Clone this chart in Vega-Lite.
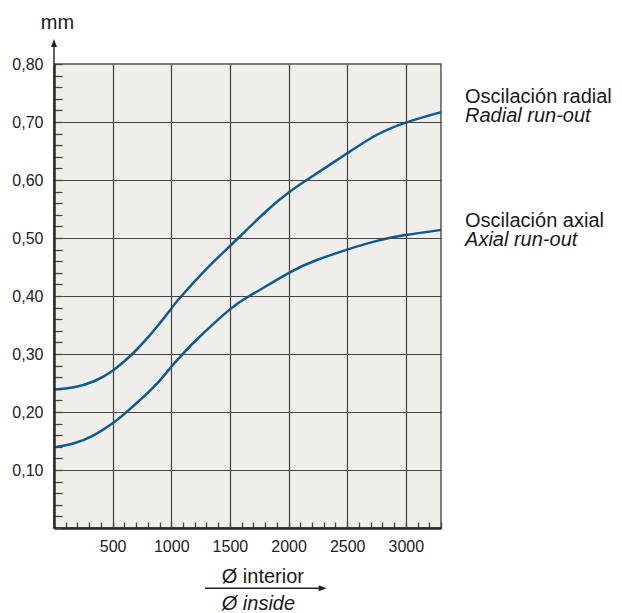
{
  "$schema": "https://vega.github.io/schema/vega-lite/v6.json",
  "width": 387,
  "height": 464,
  "autosize": {"type": "none"},
  "padding": {"left": 54, "top": 64, "right": 181, "bottom": 85},
  "background": "white",
  "config": {
    "view": {"fill": "#efeeea", "stroke": "#555555", "strokeWidth": 1.5},
    "font": "Liberation Sans"
  },
  "datasets": {
    "curves": [
      {"d": 0, "mm": 0.239, "serie": "radial"},
      {"d": 171, "mm": 0.2426, "serie": "radial"},
      {"d": 341, "mm": 0.253, "serie": "radial"},
      {"d": 500, "mm": 0.271, "serie": "radial"},
      {"d": 668, "mm": 0.300, "serie": "radial"},
      {"d": 776, "mm": 0.323, "serie": "radial"},
      {"d": 853, "mm": 0.341, "serie": "radial"},
      {"d": 1003, "mm": 0.379, "serie": "radial"},
      {"d": 1074, "mm": 0.397, "serie": "radial"},
      {"d": 1302, "mm": 0.447, "serie": "radial"},
      {"d": 1500, "mm": 0.486, "serie": "radial"},
      {"d": 1814, "mm": 0.547, "serie": "radial"},
      {"d": 2004, "mm": 0.579, "serie": "radial"},
      {"d": 2155, "mm": 0.600, "serie": "radial"},
      {"d": 2500, "mm": 0.646, "serie": "radial"},
      {"d": 2754, "mm": 0.678, "serie": "radial"},
      {"d": 3000, "mm": 0.699, "serie": "radial"},
      {"d": 3300, "mm": 0.717, "serie": "radial"},
      {"d": 0, "mm": 0.139, "serie": "axial"},
      {"d": 171, "mm": 0.146, "serie": "axial"},
      {"d": 341, "mm": 0.160, "serie": "axial"},
      {"d": 500, "mm": 0.1805, "serie": "axial"},
      {"d": 625, "mm": 0.201, "serie": "axial"},
      {"d": 853, "mm": 0.2436, "serie": "axial"},
      {"d": 1000, "mm": 0.278, "serie": "axial"},
      {"d": 1094, "mm": 0.299, "serie": "axial"},
      {"d": 1202, "mm": 0.322, "serie": "axial"},
      {"d": 1500, "mm": 0.377, "serie": "axial"},
      {"d": 1700, "mm": 0.404, "serie": "axial"},
      {"d": 2004, "mm": 0.440, "serie": "axial"},
      {"d": 2241, "mm": 0.462, "serie": "axial"},
      {"d": 2500, "mm": 0.480, "serie": "axial"},
      {"d": 2754, "mm": 0.495, "serie": "axial"},
      {"d": 3000, "mm": 0.505, "serie": "axial"},
      {"d": 3300, "mm": 0.514, "serie": "axial"}
    ],
    "labelsNormal": [
      {"d": -113, "mm": 0.8598, "t": "mm"},
      {"d": 3505, "mm": 0.7322, "t": "Oscilación radial"},
      {"d": 3505, "mm": 0.5195, "t": "Oscilación axial"},
      {"d": 1430, "mm": -0.0943, "t": "Ø interior"}
    ],
    "labelsItalic": [
      {"d": 3505, "mm": 0.7005, "t": "Radial run-out"},
      {"d": 3505, "mm": 0.4862, "t": "Axial run-out"},
      {"d": 1430, "mm": -0.1422, "t": "Ø inside"}
    ],
    "vArrow": [{"d": 0, "mm": 0.80, "mm2": 0.836}],
    "hArrow": [{"d": 1288, "d2": 2275, "mm": -0.104}],
    "vHead": [{"d": 0, "mm": 0.8362}],
    "hHead": [{"d": 2291, "mm": -0.104}]
  },
  "layer": [
    {
      "data": {"name": "curves"},
      "mark": {"type": "line", "interpolate": "natural", "color": "#0b5c95", "strokeWidth": 2.5},
      "encoding": {
        "x": {
          "field": "d",
          "type": "quantitative",
          "scale": {"domain": [0, 3300], "nice": false, "zero": false},
          "axis": {
            "title": null,
            "zindex": 1,
            "tickCount": 200,
            "values": [0,100,200,300,400,500,600,700,800,900,1000,1100,1200,1300,1400,1500,1600,1700,1800,1900,2000,2100,2200,2300,2400,2500,2600,2700,2800,2900,3000,3100,3200,3300],
            "tickSize": -6,
            "tickColor": "#444444",
            "tickWidth": 1.3,
            "domainColor": "#2a2a2a",
            "domainWidth": 2.5,
            "grid": true,
            "gridColor": "#444444",
            "gridWidth": 1.2,
            "gridOpacity": {"condition": {"test": "datum.value % 500 == 0 && datum.value > 0 && datum.value < 3300", "value": 1}, "value": 0},
            "labelExpr": "datum.value % 500 == 0 && datum.value > 0 ? '' + datum.value : ''",
            "labelFontSize": 16,
            "labelColor": "#222222",
            "labelPadding": 16,
            "labelFlush": false,
            "labelOverlap": false
          }
        },
        "y": {
          "field": "mm",
          "type": "quantitative",
          "scale": {"domain": [0, 0.8], "nice": false, "zero": false},
          "axis": {
            "title": null,
            "zindex": 1,
            "tickCount": 200,
            "values": [0,0.02,0.04,0.06,0.08,0.1,0.12,0.14,0.16,0.18,0.2,0.22,0.24,0.26,0.28,0.3,0.32,0.34,0.36,0.38,0.4,0.42,0.44,0.46,0.48,0.5,0.52,0.54,0.56,0.58,0.6,0.62,0.64,0.66,0.68,0.7,0.72,0.74,0.76,0.78,0.8],
            "tickSize": -8,
            "tickColor": "#444444",
            "tickWidth": 1.3,
            "domainColor": "#2a2a2a",
            "domainWidth": 2.5,
            "grid": true,
            "gridColor": "#444444",
            "gridWidth": 1.2,
            "gridOpacity": {"condition": {"test": "round(datum.value * 100) % 10 == 0 && datum.value > 0.05 && datum.value < 0.79", "value": 1}, "value": 0},
            "labelExpr": "round(datum.value * 100) % 10 == 0 && datum.value > 0.05 ? replace(format(datum.value, '.2f'), '.', ',') : ''",
            "labelFontSize": 16,
            "labelColor": "#222222",
            "labelPadding": 19,
            "labelFlush": false,
            "labelOverlap": false
          }
        },
        "detail": {"field": "serie"}
      }
    },
    {
      "data": {"name": "vArrow"},
      "mark": {"type": "rule", "color": "#222222", "strokeWidth": 1.4, "clip": false},
      "encoding": {
        "x": {"field": "d", "type": "quantitative"},
        "y": {"field": "mm", "type": "quantitative"},
        "y2": {"field": "mm2"}
      }
    },
    {
      "data": {"name": "hArrow"},
      "mark": {"type": "rule", "color": "#222222", "strokeWidth": 1.4, "clip": false},
      "encoding": {
        "x": {"field": "d", "type": "quantitative"},
        "x2": {"field": "d2"},
        "y": {"field": "mm", "type": "quantitative"}
      }
    },
    {
      "data": {"name": "vHead"},
      "mark": {"type": "point", "shape": "M0,-1L0.75,1L-0.75,1Z", "filled": true, "color": "#222222", "size": 64, "opacity": 1, "clip": false},
      "encoding": {
        "x": {"field": "d", "type": "quantitative"},
        "y": {"field": "mm", "type": "quantitative"}
      }
    },
    {
      "data": {"name": "hHead"},
      "mark": {"type": "point", "shape": "M1,0L-1,-0.75L-1,0.75Z", "filled": true, "color": "#222222", "size": 64, "opacity": 1, "clip": false},
      "encoding": {
        "x": {"field": "d", "type": "quantitative"},
        "y": {"field": "mm", "type": "quantitative"}
      }
    },
    {
      "data": {"name": "labelsNormal"},
      "mark": {"type": "text", "align": "left", "baseline": "alphabetic", "fontSize": 20, "color": "#1a1a1a", "clip": false},
      "encoding": {
        "x": {"field": "d", "type": "quantitative"},
        "y": {"field": "mm", "type": "quantitative"},
        "text": {"field": "t"}
      }
    },
    {
      "data": {"name": "labelsItalic"},
      "mark": {"type": "text", "align": "left", "baseline": "alphabetic", "fontSize": 20, "fontStyle": "italic", "color": "#1a1a1a", "clip": false},
      "encoding": {
        "x": {"field": "d", "type": "quantitative"},
        "y": {"field": "mm", "type": "quantitative"},
        "text": {"field": "t"}
      }
    }
  ]
}
